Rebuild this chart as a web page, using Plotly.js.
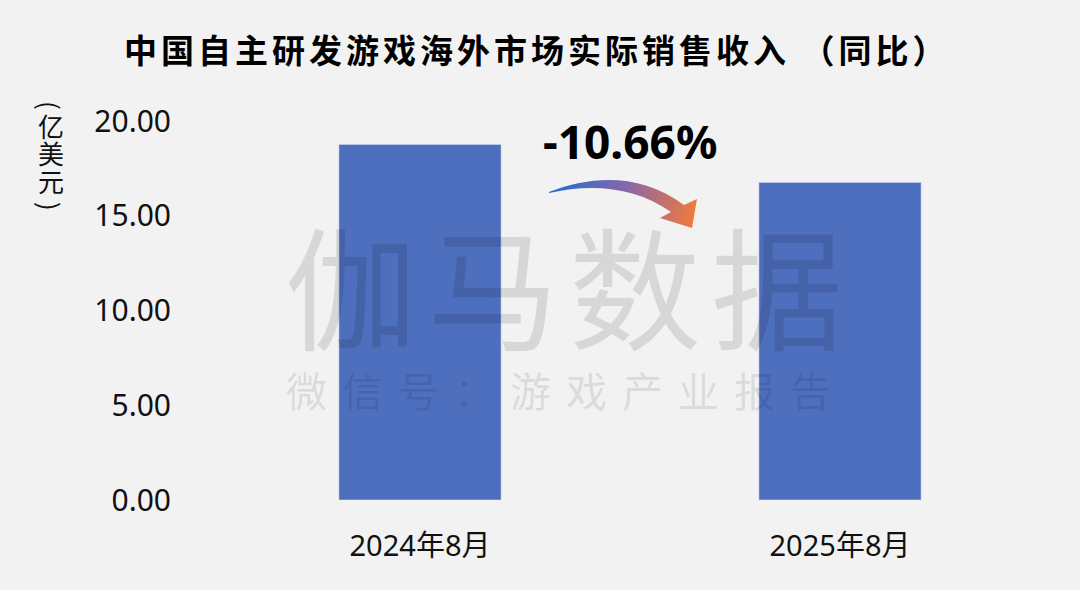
<!DOCTYPE html>
<html>
<head>
<meta charset="utf-8">
<script src="https://cdn.plot.ly/plotly-3.0.1.min.js"></script>
<style>
  html, body { margin: 0; padding: 0; background: #f2f2f2; }
  #chart { width: 1080px; height: 590px; }
  .gtitle { letter-spacing: 4px; }
  g.annotation[data-index="0"] text { letter-spacing: 10px; }
  g.annotation[data-index="1"] text { letter-spacing: 15px; }
</style>
</head>
<body>
<div id="chart"></div>
<script>
// ---- data ----
const categories = ['2024年8月', '2025年8月'];
const revenue = [18.76, 16.76];           // 亿美元
const yTickVals = [0, 5, 10, 15, 20];
const yTickText = ['0.00', '5.00', '10.00', '15.00', '20.00'];
const titleText = '中国自主研发游戏海外市场实际销售收入 （同比）';
const unitChars = ['(', '亿', '美', '元', ')'];
const watermarkMain = '伽马数据';
const watermarkSub = '微信号：游戏产业报告';

// ---- layout geometry ----
const W = 1080, H = 590;
const M = { l: 210, r: 30, t: 121, b: 90 };
const PW = W - M.l - M.r, PH = H - M.t - M.b;
const px = v => (v - M.l) / PW;      // page pixel -> paper x
const py = v => (H - M.b - v) / PH;  // page pixel -> paper y

const growth = ((revenue[1] / revenue[0] - 1) * 100).toFixed(2) + '%';

const cjk = '"Noto Sans CJK SC", "Noto Sans", sans-serif';
const latin = '"Noto Sans", "Noto Sans CJK SC", sans-serif';

// gradient curved arrow (decoration) as an svg overlay
const arrowSvg =
  '<svg xmlns="http://www.w3.org/2000/svg" width="1080" height="590" viewBox="0 0 1080 590">' +
  '<defs><linearGradient id="g" gradientUnits="userSpaceOnUse" x1="552" y1="186" x2="694" y2="222">' +
  '<stop offset="0" stop-color="#1e6fd2"/><stop offset="0.5" stop-color="#8a67a8"/>' +
  '<stop offset="1" stop-color="#f27a3a"/></linearGradient></defs>' +
  '<path d="M549,192 C590,176 640,172 684,205 L697,199 L692,228 L660,218 L671,212 C636,187 592,183 549,193 Z" fill="url(#g)"/>' +
  '</svg>';

const annotations = [
  { text: watermarkMain, x: px(569), y: py(282), xref: 'paper', yref: 'paper', showarrow: false,
    xanchor: 'center', yanchor: 'middle',
    font: { family: cjk, size: 132, color: 'rgba(0,0,0,0.11)' } },
  { text: watermarkSub, x: px(566), y: py(389), xref: 'paper', yref: 'paper', showarrow: false,
    xanchor: 'center', yanchor: 'middle',
    font: { family: cjk, size: 41, color: 'rgba(0,0,0,0.11)' } },
  { text: '<b>' + growth + '</b>', x: px(630), y: py(141), xref: 'paper', yref: 'paper', showarrow: false,
    xanchor: 'center', yanchor: 'middle',
    font: { family: latin, size: 46, color: '#000000' } }
];
const unitY = [105, 125, 152, 180, 206];
unitChars.forEach((c, i) => {
  const paren = (c === '(' || c === ')');
  annotations.push({
    text: c, x: px(51), y: py(unitY[i]), xref: 'paper', yref: 'paper', showarrow: false,
    xanchor: 'center', yanchor: 'middle', textangle: paren ? 90 : 0,
    font: { family: cjk, size: 26, color: '#111111' }
  });
});

const trace = {
  type: 'bar',
  x: categories,
  y: revenue,
  width: 0.386,
  marker: { color: '#4e6fbd', line: { width: 1, color: 'rgba(200,210,240,0.6)' } },
  hoverinfo: 'skip'
};

const layout = {
  width: W, height: H,
  margin: M,
  paper_bgcolor: '#f2f2f2',
  plot_bgcolor: '#f2f2f2',
  showlegend: false,
  title: {
    text: '<b>' + titleText + '</b>',
    xref: 'container', yref: 'container',
    x: 0.497, xanchor: 'center', y: 1 - 51 / H, yanchor: 'middle',
    font: { family: cjk, size: 33, color: '#000000' }
  },
  xaxis: {
    type: 'category', range: [-0.5, 1.5],
    showgrid: false, zeroline: false, showline: false, ticks: '',
    tickfont: { family: latin, size: 29, color: '#111111' },
    ticklabelstandoff: 26
  },
  yaxis: {
    range: [0, 20], tickvals: yTickVals, ticktext: yTickText,
    showgrid: false, zeroline: false, showline: false, ticks: '',
    tickfont: { family: latin, size: 30, color: '#111111' },
    ticklabelstandoff: 38
  },
  annotations: annotations,
  images: [{
    source: 'data:image/svg+xml;charset=utf-8,' + encodeURIComponent(arrowSvg),
    xref: 'paper', yref: 'paper',
    x: px(0), y: py(0), sizex: W / PW, sizey: H / PH,
    xanchor: 'left', yanchor: 'top', sizing: 'stretch', layer: 'above'
  }]
};

Plotly.newPlot('chart', [trace], layout, { displayModeBar: false, staticPlot: true });
</script>
</body>
</html>
